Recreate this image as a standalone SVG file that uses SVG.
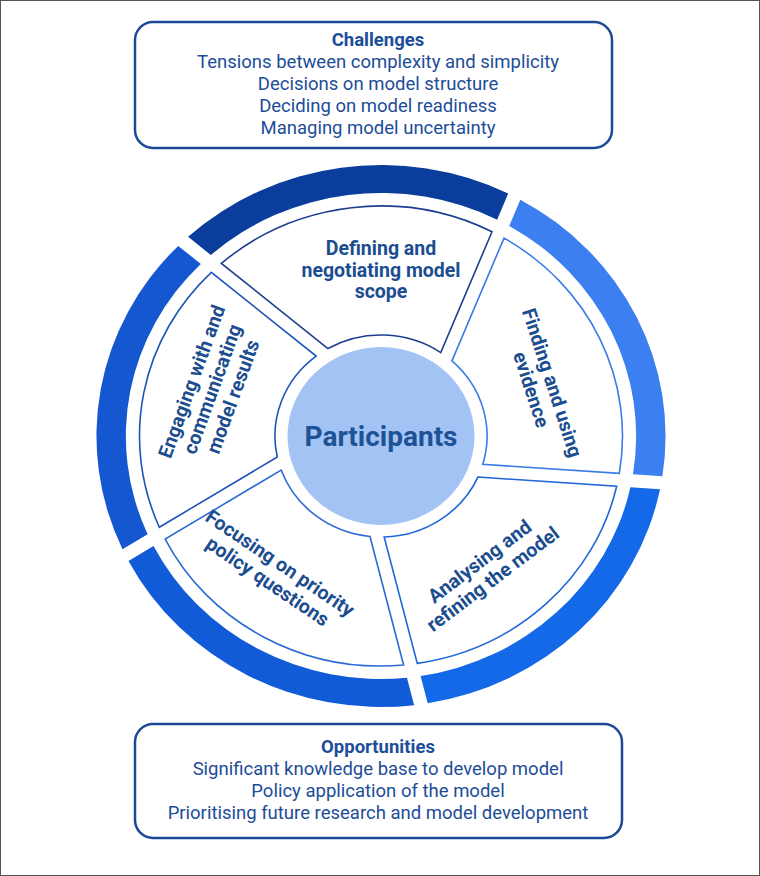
<svg xmlns="http://www.w3.org/2000/svg" width="760" height="876" viewBox="0 0 760 876">
<style>
.box{fill:#fff;stroke:#1d4a98;stroke-width:2.5}
.bt{font-family:Roboto,"Liberation Sans",sans-serif;font-size:18.5px;fill:#1c4d98;text-anchor:middle}
.bh{font-weight:700}
.lbl{font-family:Roboto,"Liberation Sans",sans-serif;font-size:19.5px;font-weight:700;fill:#1b4d8f;text-anchor:middle}
.seg{fill:#fff;stroke-width:1.6;vector-effect:non-scaling-stroke}
</style>
<rect x="0.5" y="0.5" width="759" height="875" fill="#fff" stroke="#555" stroke-width="1"/>
<g id="challenges">
<rect class="box" x="135" y="22" width="477" height="126" rx="18"/>
<text class="bt bh" x="378" y="46">Challenges</text>
<text class="bt" x="378" y="68">Tensions between complexity and simplicity</text>
<text class="bt" x="378" y="90">Decisions on model structure</text>
<text class="bt" x="378" y="112">Deciding on model readiness</text>
<text class="bt" x="378" y="134">Managing model uncertainty</text>
</g>
<g id="ring" transform="translate(381,436) scale(1.05,1)">
<path fill="#0b3e9c" d="M-162.09,-181.05 L-183.73,-199.21 A271 271 0 0 1 121.13,-242.43 L110.61,-216.37 A243 243 0 0 0 -162.09,-181.05 Z"/>
<path fill="#3b7ff0" d="M122.10,-210.10 L132.68,-236.30 A271 271 0 0 1 267.99,40.29 L239.96,38.33 A243 243 0 0 0 122.10,-210.10 Z"/>
<path fill="#1469e8" d="M237.55,51.20 L265.73,53.17 A271 271 0 0 1 44.49,267.33 L37.70,240.06 A243 243 0 0 0 237.55,51.20 Z"/>
<path fill="#115bd8" d="M24.72,241.74 L31.55,269.15 A271 271 0 0 1 -240.50,124.93 L-216.66,110.03 A243 243 0 0 0 24.72,241.74 Z"/>
<path fill="#1557d1" d="M-222.27,98.21 L-246.23,113.18 A271 271 0 0 1 -193.13,-190.12 L-171.60,-172.06 A243 243 0 0 0 -222.27,98.21 Z"/>
</g>
<g id="defining">
<path class="seg" stroke="#1b3f8f" transform="translate(381,436) scale(1.05,1)" d="M-50.54,-87.44 L-152.02,-172.60 A230 230 0 0 1 105.72,-204.26 L56.90,-83.45 A101 101 0 0 0 -50.54,-87.44 Z"/>
<text class="lbl" x="381" y="255">Defining and</text>
<text class="lbl" x="381" y="276.5">negotiating model</text>
<text class="lbl" x="381" y="298">scope</text>
</g>
<g id="finding">
<path class="seg" stroke="#3a7be6" transform="translate(381,436) scale(1.05,1)" d="M67.55,-75.08 L117.17,-197.92 A230 230 0 0 1 226.93,37.42 L96.95,28.33 A101 101 0 0 0 67.55,-75.08 Z"/>
<g transform="translate(542,386) rotate(72)">
<text class="lbl" x="0" y="-4">Finding and using</text>
<text class="lbl" x="0" y="18">evidence</text>
</g>
</g>
<g id="analysing">
<path class="seg" stroke="#1f66d9" transform="translate(381,436) scale(1.05,1)" d="M92.28,41.04 L224.44,50.28 A230 230 0 0 1 34.54,227.39 L3.01,100.96 A101 101 0 0 0 92.28,41.04 Z"/>
<g transform="translate(486,570) rotate(-37)">
<text class="lbl" x="0" y="-4">Analysing and</text>
<text class="lbl" x="0" y="18">refining the model</text>
</g>
</g>
<g id="focusing">
<path class="seg" stroke="#2b6ad6" transform="translate(381,436) scale(1.05,1)" d="M-10.51,100.45 L21.54,228.99 A230 230 0 0 1 -205.59,103.11 L-95.09,34.06 A101 101 0 0 0 -10.51,100.45 Z"/>
<g transform="translate(274,572) rotate(34)">
<text class="lbl" x="0" y="-4">Focusing on priority</text>
<text class="lbl" x="0" y="18">policy questions</text>
</g>
</g>
<g id="engaging">
<path class="seg" stroke="#1f55b8" transform="translate(381,436) scale(1.05,1)" d="M-98.78,21.04 L-211.13,91.24 A230 230 0 0 1 -161.60,-163.66 L-61.78,-79.91 A101 101 0 0 0 -98.78,21.04 Z"/>
<g transform="translate(212,389) rotate(-70)">
<text class="lbl" x="0" y="-15">Engaging with and</text>
<text class="lbl" x="0" y="7">communicating</text>
<text class="lbl" x="0" y="29">model results</text>
</g>
</g>
<g id="participants">
<ellipse cx="381" cy="436" rx="93.5" ry="89" fill="#a4c3f5"/>
<text x="381" y="446" font-family="Roboto,'Liberation Sans',sans-serif" font-size="28" font-weight="700" fill="#1d5394" text-anchor="middle">Participants</text>
</g>
<g id="opportunities">
<rect class="box" x="135" y="724" width="487" height="114" rx="18"/>
<text class="bt bh" x="378" y="753">Opportunities</text>
<text class="bt" x="378" y="775">Significant knowledge base to develop model</text>
<text class="bt" x="378" y="797">Policy application of the model</text>
<text class="bt" x="378" y="819">Prioritising future research and model development</text>
</g>
<g id="connectors"></g>
</svg>
